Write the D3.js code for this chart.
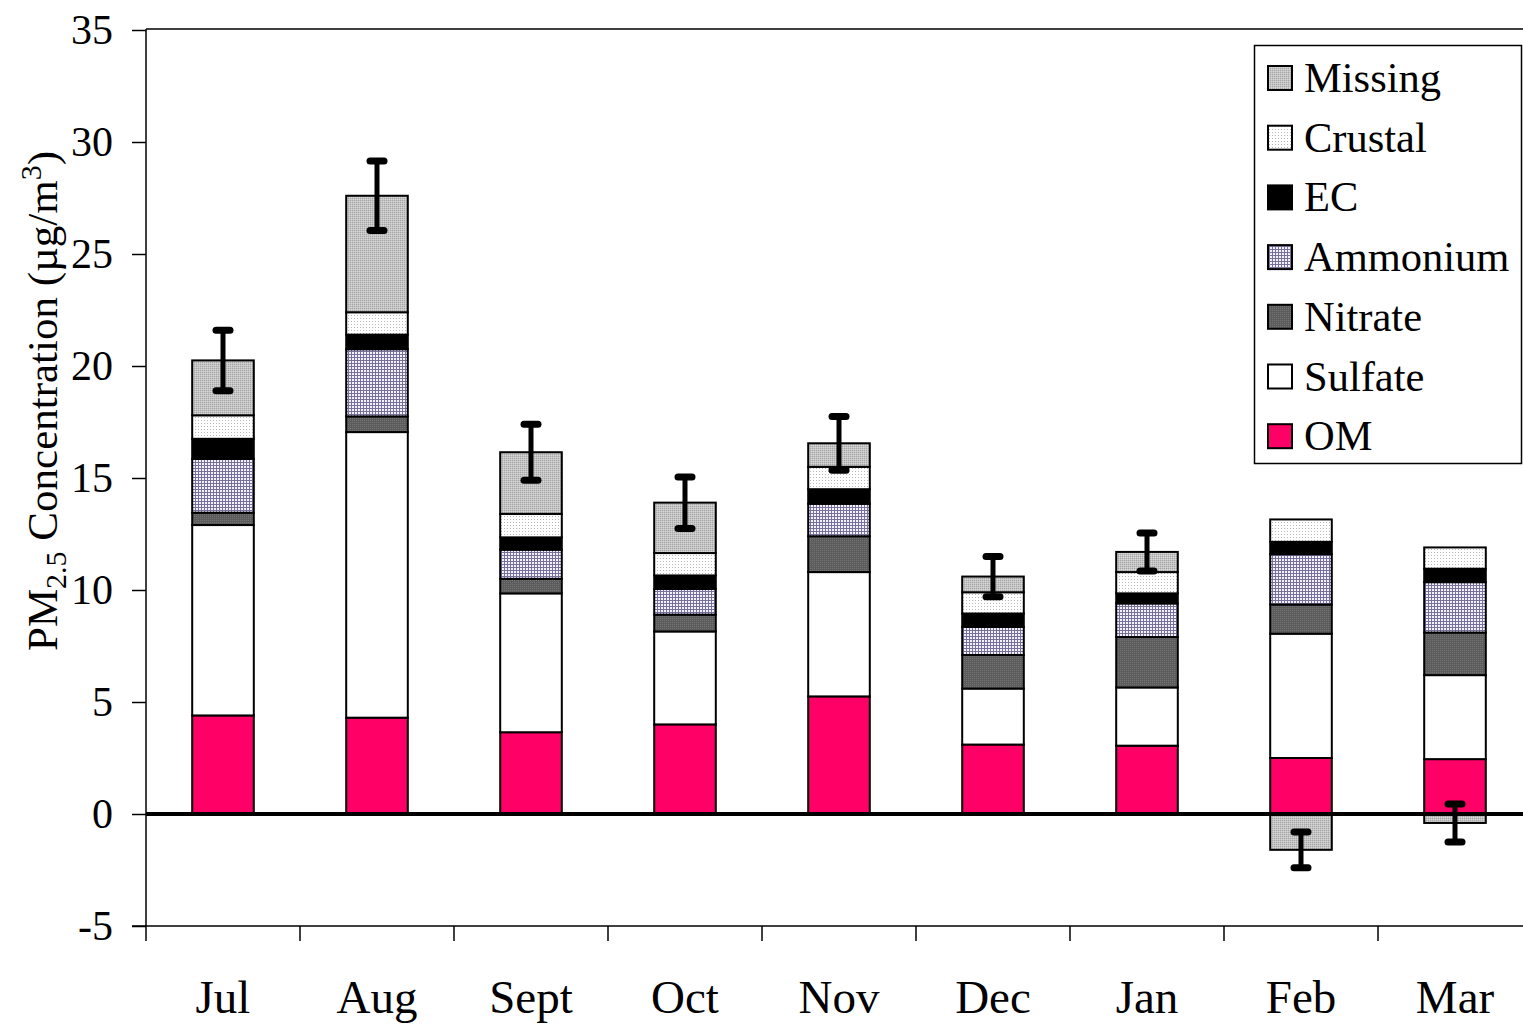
<!DOCTYPE html>
<html>
<head>
<meta charset="utf-8">
<script src="https://cdn.jsdelivr.net/npm/d3@7/dist/d3.min.js"></script>
<style>
  html, body { margin: 0; padding: 0; background: #fff; }
  svg { display: block; }
  text { font-family: "Liberation Serif", "Times New Roman", serif; fill: #000; }
</style>
</head>
<body>
<svg id="chart" width="1523" height="1029"></svg>
<script>
// Monthly PM2.5 composition (µg/m³)
const months   = ["Jul", "Aug", "Sept", "Oct", "Nov", "Dec", "Jan", "Feb", "Mar"];
const OM       = [4.4, 4.3, 3.65, 4.0, 5.25, 3.1, 3.05, 2.5, 2.45];
const Sulfate  = [8.5, 12.75, 6.2, 4.15, 5.55, 2.5, 2.6, 5.55, 3.75];
const Nitrate  = [0.55, 0.7, 0.65, 0.75, 1.6, 1.5, 2.25, 1.3, 1.9];
const Ammonium = [2.4, 3.0, 1.3, 1.15, 1.45, 1.25, 1.5, 2.25, 2.25];
const EC       = [0.9, 0.65, 0.55, 0.6, 0.65, 0.6, 0.45, 0.55, 0.6];
const Crustal  = [1.05, 1.0, 1.05, 1.0, 1.0, 0.95, 0.95, 1.0, 0.95];
const Missing  = [2.45, 5.2, 2.75, 2.25, 1.05, 0.7, 0.9, -1.6, -0.4];
const missingErr = [1.35, 1.55, 1.25, 1.15, 1.2, 0.9, 0.85, 0.8, 0.85];
const yTicks   = [-5, 0, 5, 10, 15, 20, 25, 30, 35];

// stacking order, bottom to top
const seriesNames = ["OM", "Sulfate", "Nitrate", "Ammonium", "EC", "Crustal", "Missing"];
const seriesData = { OM, Sulfate, Nitrate, Ammonium, EC, Crustal, Missing };

const rows = months.map((m, i) => {
  const r = { month: m };
  seriesNames.forEach(s => r[s] = seriesData[s][i]);
  return r;
});

const svg = d3.select("#chart");
const defs = svg.append("defs");

// fill patterns
function pat(id, w, h, bg, draw) {
  const p = defs.append("pattern").attr("id", id)
    .attr("patternUnits", "userSpaceOnUse").attr("width", w).attr("height", h);
  p.append("rect").attr("width", w).attr("height", h).attr("fill", bg);
  draw(p);
}
pat("pMissing", 2, 2, "#c4c4c4", p => {
  p.append("rect").attr("x", 0).attr("y", 0).attr("width", 1).attr("height", 1).attr("fill", "#a6a6a6");
  p.append("rect").attr("x", 1).attr("y", 1).attr("width", 1).attr("height", 1).attr("fill", "#d6d6d6");
});
pat("pCrustal", 3, 3, "#ffffff", p => {
  p.append("rect").attr("x", 0).attr("y", 0).attr("width", 1).attr("height", 1).attr("fill", "#b8b8b8");
});
pat("pAmmonium", 3, 3, "#f4f2ff", p => {
  p.append("rect").attr("x", 0).attr("y", 0).attr("width", 3).attr("height", 1).attr("fill", "#77709a");
  p.append("rect").attr("x", 0).attr("y", 0).attr("width", 1).attr("height", 3).attr("fill", "#77709a");
});
pat("pNitrate", 2, 2, "#5c5c5c", p => {
  p.append("rect").attr("x", 0).attr("y", 0).attr("width", 1).attr("height", 1).attr("fill", "#747474");
});

const fills = {
  OM: "#ff0066",
  Sulfate: "#ffffff",
  Nitrate: "url(#pNitrate)",
  Ammonium: "url(#pAmmonium)",
  EC: "#000000",
  Crustal: "url(#pCrustal)",
  Missing: "url(#pMissing)"
};

// scales
const plotLeft = 146, plotRight = 1532, plotTop = 29, plotBottom = 926;
const x = d3.scaleBand().domain(months).range([plotLeft, plotRight])
  .paddingInner(0.6).paddingOuter(0.3);
const step = x.step();
const y = d3.scaleLinear().domain([-5, 35]).range([plotBottom, 30]);

const stack = d3.stack().keys(seriesNames).offset(d3.stackOffsetDiverging);
const stacked = stack(rows);

// plot frame: top border
svg.append("line").attr("x1", plotLeft).attr("x2", 1523).attr("y1", plotTop).attr("y2", plotTop)
  .attr("stroke", "#000").attr("stroke-width", 1.5);

// y axis
const yAxis = d3.axisLeft(y).tickValues(yTicks).tickSize(14).tickPadding(8)
  .tickFormat(d => d < 0 ? "-" + Math.abs(d) : String(d));
const gy = svg.append("g").attr("transform", `translate(${plotLeft},0)`).call(yAxis);
gy.select(".domain").attr("stroke", "#000").attr("stroke-width", 1.5)
  .attr("d", `M0,${plotTop}V${plotBottom}`);
gy.selectAll(".tick line").attr("stroke", "#000").attr("stroke-width", 1.5);
gy.selectAll(".tick text").attr("font-size", 42).attr("font-family", "Liberation Serif")
  .attr("dy", "0.33em").attr("x", -33);

// x axis at the bottom of the plot (-5), ticks on category boundaries
const edges = months.map(m => x(m) - step * 0.3).concat([plotRight]);
const gx = svg.append("g");
gx.append("line").attr("x1", plotLeft - 14).attr("x2", 1523).attr("y1", y(-5)).attr("y2", y(-5))
  .attr("stroke", "#000").attr("stroke-width", 1.5);
gx.selectAll("line.tk").data(edges).join("line").attr("class", "tk")
  .attr("x1", d => d).attr("x2", d => d).attr("y1", y(-5)).attr("y2", y(-5) + 15)
  .attr("stroke", "#000").attr("stroke-width", 1.5);
gx.selectAll("text").data(months).join("text")
  .attr("x", d => x(d) + x.bandwidth() / 2).attr("y", 1013)
  .attr("text-anchor", "middle").attr("font-size", 47).text(d => d);

// stacked bars
const layers = svg.append("g").selectAll("g").data(stacked).join("g")
  .attr("fill", d => fills[d.key]);
layers.selectAll("rect").data(d => d).join("rect")
  .attr("x", d => x(d.data.month))
  .attr("width", x.bandwidth())
  .attr("y", d => y(Math.max(d[0], d[1])))
  .attr("height", d => Math.abs(y(d[0]) - y(d[1])))
  .attr("stroke", "#000").attr("stroke-width", 2);

// zero line
svg.append("line").attr("x1", plotLeft).attr("x2", 1523).attr("y1", y(0)).attr("y2", y(0))
  .attr("stroke", "#000").attr("stroke-width", 4);

// error bars on the Missing segment
const missingLayer = stacked.find(s => s.key === "Missing");
const eg = svg.append("g");
missingLayer.forEach((d, i) => {
  const c = d.data.Missing < 0 ? d[0] : d[1];
  const cx = x(d.data.month) + x.bandwidth() / 2;
  const hi = y(c + missingErr[i]), lo = y(c - missingErr[i]);
  eg.append("line").attr("x1", cx).attr("x2", cx).attr("y1", hi).attr("y2", lo)
    .attr("stroke", "#000").attr("stroke-width", 5);
  [hi, lo].forEach(yy => {
    eg.append("line").attr("x1", cx - 7).attr("x2", cx + 7).attr("y1", yy).attr("y2", yy)
      .attr("stroke", "#000").attr("stroke-width", 7).attr("stroke-linecap", "round");
  });
});

// y axis title
const title = svg.append("text")
  .attr("transform", "translate(57,401) rotate(-90)")
  .attr("text-anchor", "middle").attr("font-size", 43);
title.append("tspan").text("PM");
title.append("tspan").attr("font-size", 30).attr("dy", 9).text("2.5");
title.append("tspan").attr("dy", -9).text(" Concentration (µg/m");
title.append("tspan").attr("font-size", 30).attr("dy", -16).text("3");
title.append("tspan").attr("dy", 16).text(")");

// legend
const legendOrder = seriesNames.slice().reverse();
const lg = svg.append("g");
lg.append("rect").attr("x", 1254.5).attr("y", 45.5).attr("width", 267).attr("height", 418)
  .attr("fill", "#fff").attr("stroke", "#000").attr("stroke-width", 1.5);
legendOrder.forEach((name, i) => {
  const cy = 78 + i * 59.7;
  lg.append("rect").attr("x", 1268).attr("y", cy - 12).attr("width", 24).attr("height", 24)
    .attr("fill", fills[name]).attr("stroke", "#000").attr("stroke-width", 2);
  lg.append("text").attr("x", 1304).attr("y", cy + 14).attr("font-size", 42.5).text(name);
});
</script>
</body>
</html>
